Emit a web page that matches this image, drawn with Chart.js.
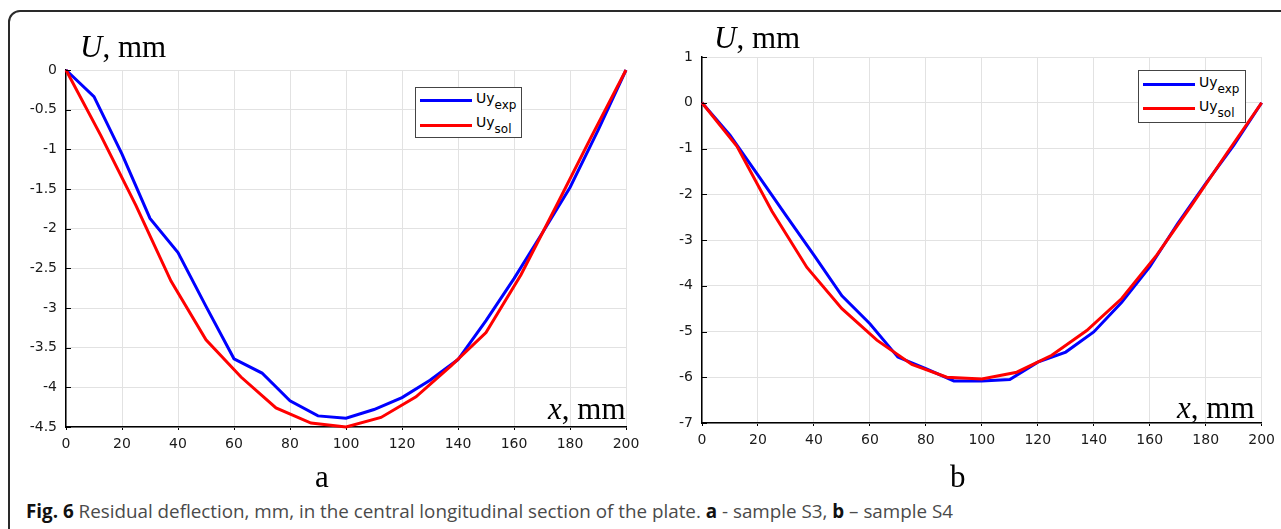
<!DOCTYPE html>
<html>
<head>
<meta charset="utf-8">
<script src="https://cdn.jsdelivr.net/npm/chart.js@4.4.1/dist/chart.umd.min.js"></script>
<style>
  html, body { margin:0; padding:0; background:#fff; width:1281px; height:529px; overflow:hidden; position:relative; }
  .frame { position:absolute; left:8px; top:10px; width:1320px; height:600px; border:2px solid #2a2a2a; border-radius:12px; box-sizing:border-box; }
  canvas { position:absolute; top:0; }
  .ser { position:absolute; font-family:"Liberation Serif","Times New Roman",serif; font-size:31px; line-height:31px; white-space:nowrap; color:#000; z-index:3; }
  .ser i { font-style:italic; }
  .legend { position:absolute; background:#fff; border:1px solid #444; box-sizing:border-box; z-index:3; }
  .legend .ln { position:absolute; height:3px; width:52px; }
  .legend .tx { position:absolute; font-family:"DejaVu Sans",Arial,sans-serif; font-size:14px; line-height:14px; white-space:nowrap; color:#000; }
  .legend .tx span { font-size:12px; position:relative; top:6px; }
  .caption { position:absolute; left:26px; top:502px; font-family:"Open Sans","Noto Sans",sans-serif; font-size:19px; line-height:19px; white-space:nowrap; color:#4a4a4a; transform-origin:0 0; z-index:3; }
  .caption b { color:#111; }
</style>
</head>
<body>
<div class="frame"></div>
<canvas id="ca" width="670" height="470" style="left:0px"></canvas>
<canvas id="cb" width="641" height="470" style="left:640px"></canvas>

<div class="ser" style="left:80px;top:31px"><i>U</i>, mm</div>
<div class="ser" style="left:714px;top:22px"><i>U</i>, mm</div>
<div class="ser" style="left:548px;top:393px"><i>x</i>, mm</div>
<div class="ser" style="left:1177px;top:392px"><i>x</i>, mm</div>
<div class="ser" style="left:315px;top:461px">a</div>
<div class="ser" style="left:950px;top:461px">b</div>

<div class="caption" id="cap"><b>Fig. 6</b> Residual deflection, mm, in the central longitudinal section of the plate. <b>a</b> - sample S3, <b>b</b> – sample S4</div>

<script>
// ---- data ----
const xExp = [0,10,20,30,40,50,60,70,80,90,100,110,120,130,140,150,160,170,180,190,200];
const xSol = [0,12.5,25,37.5,50,62.5,75,87.5,100,112.5,125,137.5,150,162.5,175,187.5,200];

const uyExpA = [0,-0.335,-1.06,-1.87,-2.30,-2.98,-3.64,-3.82,-4.17,-4.36,-4.39,-4.28,-4.13,-3.91,-3.65,-3.16,-2.63,-2.06,-1.48,-0.76,0];
const uySolA = [0,-0.83,-1.71,-2.66,-3.40,-3.87,-4.26,-4.45,-4.50,-4.38,-4.12,-3.73,-3.31,-2.58,-1.72,-0.85,0];

const uyExpB = [0,-0.71,-1.58,-2.46,-3.33,-4.22,-4.83,-5.56,-5.81,-6.08,-6.08,-6.05,-5.67,-5.45,-5.01,-4.36,-3.59,-2.64,-1.77,-0.93,0];
const uySolB = [0,-0.95,-2.37,-3.60,-4.50,-5.19,-5.72,-6.00,-6.04,-5.89,-5.52,-4.98,-4.28,-3.33,-2.24,-1.11,0];

const seriesNames = [["Uy","exp"],["Uy","sol"]];
const seriesColors = ["#0000ff","#ff0000"];

const yTicksA = { min:-4.5, max:0, step:0.5 };
const yTicksB = { min:-7, max:1, step:1 };
const xTicks = { min:0, max:200, step:20 };

// ---- chart setup ----
Chart.defaults.font.family = '"DejaVu Sans", "Liberation Sans", Arial, sans-serif';
Chart.defaults.font.size = 14;
Chart.defaults.color = '#1a1a1a';

const innerTicks = {
  id:'innerTicks',
  afterDatasetsDraw(chart){
    const y = chart.scales.y, ctx = chart.ctx, L = chart.chartArea.left;
    ctx.save(); ctx.strokeStyle = '#000'; ctx.lineWidth = 1;
    y.ticks.forEach(t => {
      const p = Math.round(y.getPixelForValue(t.value)) + 0.5;
      ctx.beginPath(); ctx.moveTo(L, p); ctx.lineTo(L + 5, p); ctx.stroke();
    });
    ctx.restore();
  }
};

function pts(xs, ys){ return xs.map((x,i)=>({x:x, y:ys[i]})); }

function makeChart(id, expY, solY, yt, geo){
  return new Chart(document.getElementById(id), {
    type:'line',
    data:{ datasets:[
      { label:seriesNames[0].join('_'), data:pts(xExp, expY), borderColor:seriesColors[0], borderWidth:3, pointRadius:0, tension:0, order:1, clip:false },
      { label:seriesNames[1].join('_'), data:pts(xSol, solY), borderColor:seriesColors[1], borderWidth:3, pointRadius:0, tension:0, order:0, clip:false }
    ]},
    options:{
      responsive:false, animation:false,
      layout:{ padding:{ left:0, top:geo.top, right:geo.right, bottom:0 } },
      plugins:{ legend:{display:false}, tooltip:{enabled:false} },
      scales:{
        x:{ type:'linear', min:xTicks.min, max:xTicks.max,
            ticks:{ stepSize:xTicks.step, padding:6, maxRotation:0, callback:v=>String(v) },
            grid:{ color:'#e2e2e2', lineWidth:1, tickLength:3, tickColor:'#000', drawTicks:true },
            border:{ color:'#000', width:1.5 },
            afterFit(s){ s.height = geo.xh; } },
        y:{ type:'linear', min:yt.min, max:yt.max,
            ticks:{ stepSize:yt.step, padding:geo.ypad, callback:v=>String(v) },
            grid:{ color:'#e2e2e2', lineWidth:1, drawTicks:false },
            border:{ color:'#000', width:1.5 },
            afterFit(s){ s.width = geo.yw; } }
      }
    },
    plugins:[innerTicks]
  });
}

makeChart('ca', uyExpA, uySolA, yTicksA, { top:70, right:44, xh:43, yw:66, ypad:9 });
makeChart('cb', uyExpB, uySolB, yTicksB, { top:57, right:19, xh:47, yw:62, ypad:9 });

// ---- legends (HTML, with subscripts) ----
function makeLegend(box){
  const d = document.createElement('div');
  d.className = 'legend';
  d.style.left = box.left+'px'; d.style.top = box.top+'px';
  d.style.width = box.w+'px'; d.style.height = box.h+'px';
  seriesNames.forEach((nm,i)=>{
    const ln = document.createElement('div');
    ln.className = 'ln';
    ln.style.background = seriesColors[i];
    ln.style.left = '4px'; ln.style.top = (box.lines[i]-1.5-1)+'px';
    d.appendChild(ln);
    const tx = document.createElement('div');
    tx.className = 'tx';
    tx.style.left = '60px'; tx.style.top = (box.base[i]-12-1)+'px';
    tx.innerHTML = nm[0] + '<span>' + nm[1] + '</span>';
    d.appendChild(tx);
  });
  document.body.appendChild(d);
}
makeLegend({ left:415, top:87, w:107, h:51, lines:[13,38], base:[16,40] });
makeLegend({ left:1138, top:70, w:108, h:53, lines:[14,38], base:[17,41] });

// fit caption width
const cap = document.getElementById('cap');
const w = cap.getBoundingClientRect().width;
cap.style.transform = 'scaleX(' + (927 / w) + ')';
</script>
</body>
</html>
